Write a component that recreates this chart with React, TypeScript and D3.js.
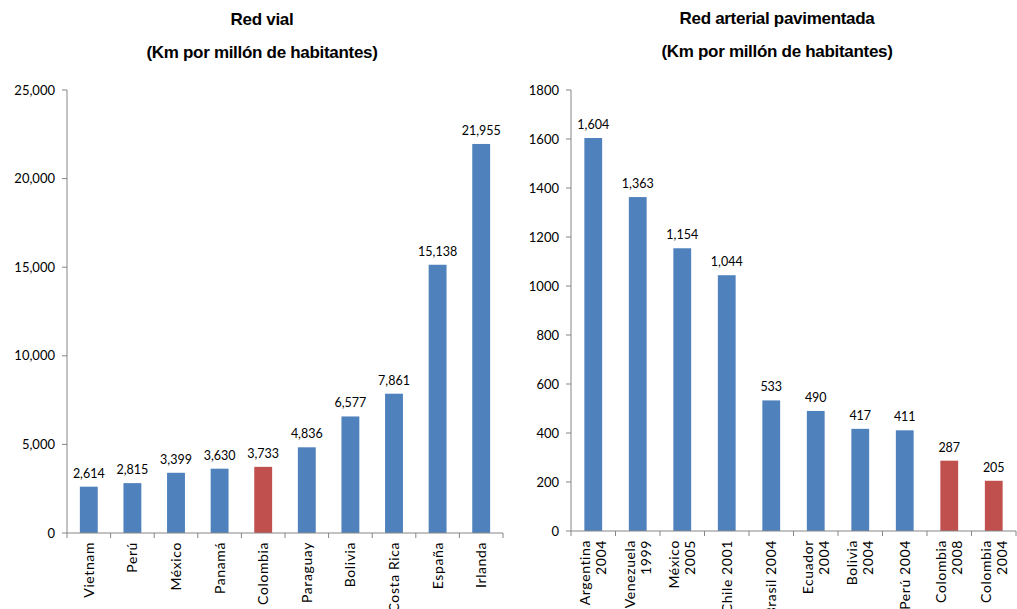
import React from "react";
import * as d3 from "d3";

// Red vial (km per million inhabitants)
const roadCountries = ["Vietnam", "Perú", "México", "Panamá", "Colombia", "Paraguay", "Bolivia", "Costa Rica", "España", "Irlanda"];
const roadValues = [2614, 2815, 3399, 3630, 3733, 4836, 6577, 7861, 15138, 21955];
const roadTicks = [0, 5000, 10000, 15000, 20000, 25000];

// Red arterial pavimentada (km per million inhabitants)
const pavedLabels = [
  ["Argentina", "2004"],
  ["Venezuela", "1999"],
  ["México", "2005"],
  ["Chile 2001"],
  ["Brasil 2004"],
  ["Ecuador", "2004"],
  ["Bolivia", "2004"],
  ["Perú 2004"],
  ["Colombia", "2008"],
  ["Colombia", "2004"],
];
const pavedValues = [1604, 1363, 1154, 1044, 533, 490, 417, 411, 287, 205];
const pavedTicks = [0, 200, 400, 600, 800, 1000, 1200, 1400, 1600, 1800];

const BLUE = "#4F81BD";
const RED = "#C0504D";
const AXIS = "#868686";
const LABEL_FONT = "Lato, 'Open Sans', sans-serif";
const TITLE_FONT = "'Liberation Sans', Arial, sans-serif";

type PanelProps = {
  labels: string[][];
  values: number[];
  ticks: number[];
  highlight: (label: string[]) => boolean;
  tickFormat: (v: number) => string;
  x0: number;
  x1: number;
  yTop: number;
  yBottom: number;
  maxValue: number;
  barRatio: number;
  title: string;
  titleX: number;
  titleY: number;
  subtitleY: number;
};

function Panel(p: PanelProps) {
  const keys = p.labels.map((l, i) => `${i}`);
  const x = d3.scaleBand<string>().domain(keys).range([p.x0, p.x1]).padding(0);
  const y = d3.scaleLinear().domain([0, p.maxValue]).range([p.yBottom, p.yTop]);
  const bw = x.bandwidth() * p.barRatio;
  const valueFmt = d3.format(",");
  const boundaries = keys.map((k) => x(k)!).concat([p.x1]);

  return (
    <g>
      <text x={p.titleX} y={p.titleY} textAnchor="middle" fontFamily={TITLE_FONT} fontWeight="bold" fontSize={17} letterSpacing={-0.3}>
        {p.title}
      </text>
      <text x={p.titleX} y={p.subtitleY} textAnchor="middle" fontFamily={TITLE_FONT} fontWeight="bold" fontSize={17} letterSpacing={-0.3}>
        (Km por millón de habitantes)
      </text>

      {/* y axis */}
      <line x1={p.x0} x2={p.x0} y1={y(p.maxValue)} y2={p.yBottom} stroke={AXIS} strokeWidth={1} />
      {p.ticks.map((t) => (
        <g key={t}>
          <line x1={p.x0 - 5} x2={p.x0} y1={y(t)} y2={y(t)} stroke={AXIS} strokeWidth={1} />
          <text x={p.x0 - 12} y={y(t)} dy="0.35em" textAnchor="end" fontFamily={LABEL_FONT} fontSize={13} fill="#000">
            {p.tickFormat(t)}
          </text>
        </g>
      ))}

      {/* bars and value labels */}
      {p.values.map((v, i) => {
        const cx = x(keys[i])! + x.bandwidth() / 2;
        return (
          <g key={i}>
            <rect x={cx - bw / 2} y={y(v)} width={bw} height={p.yBottom - y(v)} fill={p.highlight(p.labels[i]) ? RED : BLUE} />
            <text x={cx} y={y(v) - 9} textAnchor="middle" fontFamily={LABEL_FONT} fontSize={12.5} fill="#000">
              {valueFmt(v)}
            </text>
          </g>
        );
      })}

      {/* x axis */}
      <line x1={p.x0} x2={p.x1} y1={p.yBottom} y2={p.yBottom} stroke={AXIS} strokeWidth={1} />
      {boundaries.map((bx, i) => (
        <line key={i} x1={bx} x2={bx} y1={p.yBottom} y2={p.yBottom + 5} stroke={AXIS} strokeWidth={1} />
      ))}
      {p.labels.map((lines, i) => {
        const cx = x(keys[i])! + x.bandwidth() / 2;
        const n = lines.length;
        return lines.map((line, j) => {
          const lx = cx + (j - (n - 1) / 2) * 16;
          const ly = p.yBottom + 9;
          return (
            <text
              key={`${i}-${j}`}
              transform={`translate(${lx},${ly}) rotate(-90)`}
              dy="0.35em"
              textAnchor="end"
              fontFamily={LABEL_FONT}
              fontSize={14}
              letterSpacing={0.6}
              fill="#000"
            >
              {line}
            </text>
          );
        });
      })}
    </g>
  );
}

export default function App() {
  return (
    <svg width={1017} height={609} style={{ position: "absolute", left: 0, top: 0, background: "#fff" }}>
      <rect width={1017} height={609} fill="#fff" />
      <Panel
        labels={roadCountries.map((c) => [c])}
        values={roadValues}
        ticks={roadTicks}
        highlight={(l) => l[0] === "Colombia"}
        tickFormat={d3.format(",")}
        x0={67}
        x1={503}
        yTop={90}
        yBottom={533}
        maxValue={25000}
        barRatio={0.41}
        title="Red vial"
        titleX={262}
        titleY={25}
        subtitleY={58}
      />
      <Panel
        labels={pavedLabels}
        values={pavedValues}
        ticks={pavedTicks}
        highlight={(l) => l[0].startsWith("Colombia")}
        tickFormat={(v) => `${v}`}
        x0={571}
        x1={1016}
        yTop={90}
        yBottom={531}
        maxValue={1800}
        barRatio={0.4}
        title="Red arterial pavimentada"
        titleX={777}
        titleY={24}
        subtitleY={57}
      />
    </svg>
  );
}
